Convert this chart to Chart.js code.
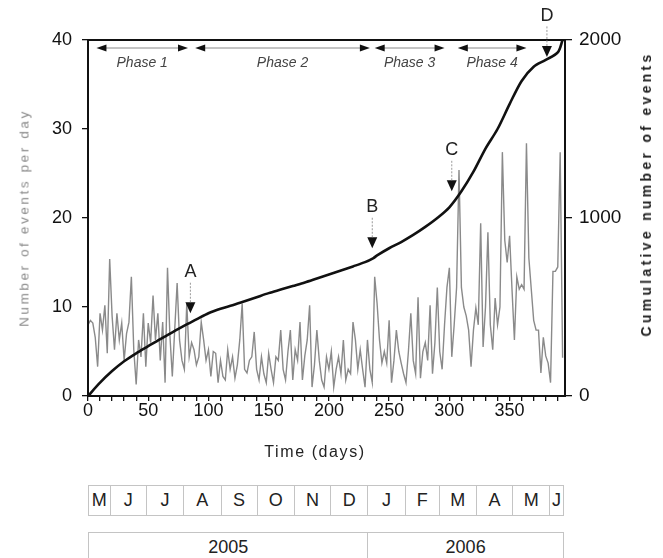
<!DOCTYPE html>
<html>
<head>
<meta charset="utf-8">
<script src="https://cdn.jsdelivr.net/npm/chart.js@4.4.1/dist/chart.umd.min.js"></script>
<style>
  html, body { margin: 0; padding: 0; background: #fff; }
  body { width: 663px; height: 558px; overflow: hidden; position: relative; font-family: 'Liberation Sans', Arial, sans-serif; }
  #chart { position: absolute; left: 0; top: 0; }
  .vtitle { position: absolute; transform: translate(-50%, -50%) rotate(-90deg); white-space: nowrap; }
  #leftTitle { left: 24px; top: 218px; font-size: 13.5px; letter-spacing: 2.6px; color: #8a8a8a; }
  #rightTitle { left: 646px; top: 194px; font-size: 14px; font-weight: bold; letter-spacing: 3.3px; color: #222; }
  #xTitle { position: absolute; left: 315px; top: 452px; transform: translate(-50%, -50%); font-size: 16px; letter-spacing: 1.6px; color: #222; white-space: nowrap; }
  .row { position: absolute; box-sizing: border-box; border-top: 1px solid #c4c4c4; border-bottom: 1px solid #c4c4c4; }
  .cell { position: absolute; top: 0; bottom: 0; box-sizing: border-box; border-left: 1px solid #c4c4c4; text-align: center; color: #222; }
  .cell.last { border-right: 1px solid #c4c4c4; }
</style>
</head>
<body>
<canvas id="chart" width="663" height="470"></canvas>
<div id="leftTitle" class="vtitle">Number of events per day</div>
<div id="rightTitle" class="vtitle">Cumulative number of events</div>
<div id="xTitle">Time (days)</div>
<div id="months" class="row"></div>
<div id="years" class="row"></div>

<script>
// ---- data ----
// daily counts, one reading every 2 days starting at day 0
const dayStep = 2;
const dailyEvents = [
  8.0, 8.5, 8.2, 6.6, 3.3, 9.3, 7.4, 10.2, 4.8, 15.4, 9.0, 5.2, 9.3, 6.3, 8.2, 4.0, 7.0, 8.3, 13.4, 5.2,
  1.3, 6.3, 4.4, 9.3, 3.3, 8.2, 6.0, 11.3, 6.3, 9.3, 4.0, 8.3, 1.5, 14.4, 6.8, 2.2, 7.5, 12.7, 6.3, 4.0,
  3.0, 10.4, 4.4, 6.0, 5.2, 3.5, 4.4, 8.3, 6.3, 4.0, 5.2, 2.2, 5.0, 4.8, 1.5, 4.0, 2.2, 1.8, 5.2, 3.0,
  4.4, 2.0, 3.5, 6.3, 10.4, 3.0, 2.6, 4.0, 4.4, 7.2, 3.0, 1.8, 4.4, 2.5, 1.5, 4.8, 3.0, 1.5, 4.4,
  4.0, 7.4, 3.0, 1.8, 5.0, 7.4, 1.8, 5.2, 4.0, 8.3, 1.8, 4.5, 6.3, 10.2, 1.0, 3.5, 7.4, 4.0, 1.8, 1.0,
  4.4, 3.0, 5.0, 1.0, 3.0, 4.4, 2.5, 6.3, 1.8, 3.0, 2.5, 8.3, 6.3, 3.0, 5.2, 3.0, 1.0, 6.3, 3.0, 1.5,
  13.4, 10.4, 6.3, 3.7, 5.0, 3.7, 8.5, 1.5, 4.0, 7.4, 5.0, 3.7, 2.5, 1.5, 5.0, 9.3, 4.0, 2.5, 11.1, 2.0,
  5.0, 6.0, 4.0, 10.2, 2.5, 6.0, 12.2, 5.0, 3.0, 8.0, 12.2, 14.4, 4.4, 8.0, 12.2, 25.4,
  12.2, 10.0, 9.0, 7.4, 3.3, 7.4, 9.9, 8.0, 19.4, 5.5, 10.0, 18.4, 8.0, 5.2, 11.0, 8.0, 10.0, 27.4, 17.5, 15.0,
  18.0, 12.0, 6.3, 13.4, 12.0, 12.5, 12.0, 28.4, 15.5, 12.0, 8.5, 7.4, 7.4, 2.6, 6.6, 4.5, 3.7, 1.5, 14.0, 14.0,
  14.5, 27.4, 4.3
];

const cumDays = [0, 10, 20, 30, 40, 50, 60, 70, 80, 90, 100, 110, 120, 130, 140, 150, 160, 170, 180, 190, 200,
  210, 220, 230, 237, 240, 250, 260, 270, 280, 290, 300, 310, 320, 330, 340, 350, 360, 370, 380, 390, 394];
const cumEvents = [0, 75, 140, 195, 240, 280, 320, 358, 395, 430, 465, 490, 510, 532, 555, 578, 598, 618, 638, 660, 682,
  705, 728, 752, 775, 790, 830, 865, 905, 950, 1000, 1060, 1150, 1260, 1390, 1500, 1640, 1770, 1850, 1888, 1930, 2000];

const phaseLabels = ['Phase 1', 'Phase 2', 'Phase 3', 'Phase 4'];
const phaseStart = [7, 89, 238, 307];
const phaseEnd = [83, 234, 296, 364];

const eventLabels = ['A', 'B', 'C', 'D'];
const eventDays = [85, 236, 302, 381];
const eventLevels = [465, 830, 1150, 1905];   // right-axis value the arrow points at

const monthLabels = ['M', 'J', 'J', 'A', 'S', 'O', 'N', 'D', 'J', 'F', 'M', 'A', 'M', 'J'];
const monthDays = [18, 30, 31, 31, 30, 31, 30, 31, 31, 28, 31, 30, 31, 12];
const yearLabels = ['2005', '2006'];
const yearDays = [232, 163];

const FONT = "'Liberation Sans', Arial, sans-serif";
const GRAY = '#8a8a8a';

const dailyPoints = dailyEvents.map((v, i) => ({ x: i * dayStep, y: v }));
const cumPoints = cumEvents.map((v, i) => ({ x: cumDays[i], y: v }));

function triangle(ctx, x1, y1, x2, y2, x3, y3) {
    ctx.beginPath();
    ctx.moveTo(x1, y1); ctx.lineTo(x2, y2); ctx.lineTo(x3, y3);
    ctx.closePath();
    ctx.fill();
}

const decorPlugin = {
    id: 'decor',
    afterDraw(chart) {
        const { ctx, chartArea: a } = chart;
        const x = chart.scales.x, y2 = chart.scales.y2;
        ctx.save();

        // frame
        ctx.strokeStyle = '#111';
        ctx.lineWidth = 2;
        ctx.strokeRect(a.left, a.top, a.right - a.left, a.bottom - a.top);

        // phase arrows
        const py = a.top + 8;
        ctx.font = 'italic 14px ' + FONT;
        ctx.textAlign = 'center';
        ctx.textBaseline = 'middle';
        phaseLabels.forEach((lab, i) => {
            const xs = x.getPixelForValue(phaseStart[i]);
            const xe = x.getPixelForValue(phaseEnd[i]);
            ctx.strokeStyle = '#888';
            ctx.lineWidth = 1;
            ctx.beginPath(); ctx.moveTo(xs + 8, py); ctx.lineTo(xe - 8, py); ctx.stroke();
            ctx.fillStyle = '#111';
            triangle(ctx, xs, py, xs + 10, py - 3.5, xs + 10, py + 3.5);
            triangle(ctx, xe, py, xe - 10, py - 3.5, xe - 10, py + 3.5);
            ctx.fillStyle = '#444';
            ctx.fillText(lab, (xs + xe) / 2, py + 15);
        });

        // event markers A-D
        ctx.font = '18px ' + FONT;
        eventLabels.forEach((lab, i) => {
            const px = x.getPixelForValue(eventDays[i]);
            const tip = y2.getPixelForValue(eventLevels[i]);
            ctx.fillStyle = '#111';
            triangle(ctx, px, tip, px - 5, tip - 11, px + 5, tip - 11);
            ctx.strokeStyle = '#999';
            ctx.lineWidth = 1;
            ctx.setLineDash([2, 1.5]);
            ctx.beginPath(); ctx.moveTo(px, tip - 11); ctx.lineTo(px, tip - 31); ctx.stroke();
            ctx.setLineDash([]);
            ctx.fillStyle = '#222';
            ctx.fillText(lab, px, tip - 41);
        });
        ctx.restore();
    }
};

const tickFont = { family: FONT, size: 18, lineHeight: 1.1 };
const sideGrid = { drawOnChartArea: false, drawTicks: true, color: '#111', lineWidth: 1.3 };

const chart = new Chart(document.getElementById('chart'), {
    type: 'line',
    data: {
        datasets: [
            {
                data: cumPoints,
                yAxisID: 'y2',
                borderColor: '#111',
                borderWidth: 2.6,
                pointRadius: 0,
                tension: 0.3,
                fill: false
            },
            {
                data: dailyPoints,
                yAxisID: 'y',
                borderColor: GRAY,
                borderWidth: 1.4,
                pointRadius: 0,
                tension: 0,
                fill: false
            }
        ]
    },
    options: {
        responsive: false,
        animation: false,
        layout: { padding: { top: 40, left: 0, right: 0, bottom: 0 } },
        plugins: { legend: { display: false }, tooltip: { enabled: false } },
        scales: {
            x: {
                type: 'linear', min: 0, max: 396,
                border: { display: false },
                grid: { ...sideGrid, tickLength: 5 },
                ticks: {
                    stepSize: 10, includeBounds: false, autoSkip: false, maxRotation: 0,
                    color: '#111', font: tickFont, padding: 0,
                    callback: v => (v % 50 === 0 ? v : '')
                },
                afterFit: s => { s.height = 74; }
            },
            y: {
                position: 'left', min: 0, max: 40,
                border: { display: false },
                grid: { ...sideGrid, tickLength: 6 },
                ticks: { stepSize: 10, color: '#111', font: tickFont, padding: 10 },
                afterFit: s => { s.width = 88; }
            },
            y2: {
                position: 'right', min: 0, max: 2000,
                border: { display: false },
                grid: { ...sideGrid, tickLength: 7 },
                ticks: { stepSize: 1000, color: '#111', font: { ...tickFont, size: 19 }, padding: 7, callback: v => String(v) },
                afterFit: s => { s.width = 98; }
            }
        }
    },
    plugins: [decorPlugin]
});

// month / year strip under the axis, placed on the chart's own x scale
function buildStrip(el, labels, spans, top, height, fontSize) {
    const x = chart.scales.x;
    const left = x.getPixelForValue(0);
    const right = x.getPixelForValue(spans.reduce((s, d) => s + d, 0));
    el.style.left = left + 'px';
    el.style.width = (right - left) + 'px';
    el.style.top = top + 'px';
    el.style.height = height + 'px';
    let day = 0;
    labels.forEach((lab, i) => {
        const x0 = x.getPixelForValue(day) - left;
        const x1 = x.getPixelForValue(day + spans[i]) - left;
        const c = document.createElement('div');
        c.className = 'cell' + (i === labels.length - 1 ? ' last' : '');
        c.style.left = x0 + 'px';
        c.style.width = (x1 - x0) + 'px';
        c.style.fontSize = fontSize + 'px';
        c.style.lineHeight = (height - 2) + 'px';
        c.textContent = lab;
        el.appendChild(c);
        day += spans[i];
    });
}
buildStrip(document.getElementById('months'), monthLabels, monthDays, 485, 31, 18);
buildStrip(document.getElementById('years'), yearLabels, yearDays, 532, 31, 18);
</script>
</body>
</html>
